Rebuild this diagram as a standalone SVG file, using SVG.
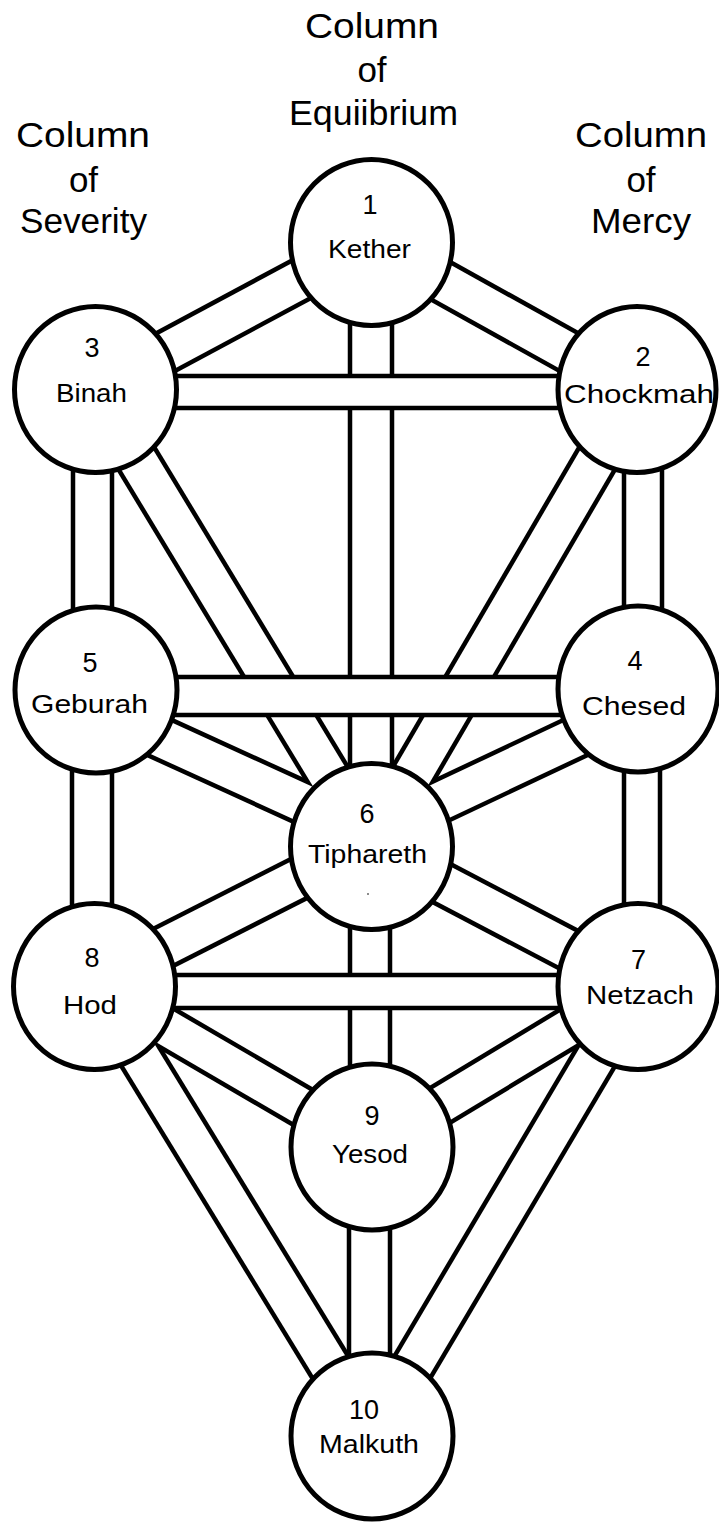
<svg xmlns="http://www.w3.org/2000/svg" width="719" height="1524" viewBox="0 0 719 1524">
<style>
.b{stroke:#000;fill:none}
.w{stroke:#fff;fill:none}
.node ellipse{fill:#fff;stroke:#000;stroke-width:5}
text{font-family:"Liberation Sans",Arial,sans-serif;fill:#000;text-anchor:middle}
.h{font-size:35px}
.n{font-size:26px}
.d{font-size:27px}
</style>
<rect width="719" height="1524" fill="#fff"/>
<g id="headers">
<text class="h" x="372" y="38" textLength="134" lengthAdjust="spacingAndGlyphs">Column</text>
<text class="h" x="372" y="82">of</text>
<text class="h" x="373.5" y="125" textLength="169" lengthAdjust="spacingAndGlyphs">Equiibrium</text>
<text class="h" x="83" y="147" textLength="134" lengthAdjust="spacingAndGlyphs">Column</text>
<text class="h" x="83.5" y="192">of</text>
<text class="h" x="83.5" y="233" textLength="127" lengthAdjust="spacingAndGlyphs">Severity</text>
<text class="h" x="641" y="147" textLength="132" lengthAdjust="spacingAndGlyphs">Column</text>
<text class="h" x="641" y="192">of</text>
<text class="h" x="641" y="233" textLength="100" lengthAdjust="spacingAndGlyphs">Mercy</text>
</g>
<g id="connectors">
<g class="b">
<line x1="371" y1="242" x2="95" y2="390" stroke-width="46.5"/>
<line x1="371" y1="242" x2="637" y2="390" stroke-width="46.5"/>
<line x1="95" y1="390" x2="371" y2="846" stroke-width="46.5"/>
<line x1="637" y1="390" x2="371" y2="846" stroke-width="46.5"/>
<line x1="95" y1="708" x2="371" y2="834" stroke-width="46.5"/>
<line x1="638" y1="708" x2="371" y2="834" stroke-width="46.5"/>
<line x1="371" y1="842" x2="95" y2="982" stroke-width="46.5"/>
<line x1="371" y1="846" x2="638" y2="986" stroke-width="46.5"/>
<line x1="95" y1="986" x2="371" y2="1147" stroke-width="44.5"/>
<line x1="638" y1="986" x2="371" y2="1147" stroke-width="44.5"/>
<line x1="97" y1="986" x2="373" y2="1437" stroke-width="46.5"/>
<line x1="638" y1="986" x2="371" y2="1437" stroke-width="46.5"/>
<line x1="371" y1="242" x2="371" y2="846" stroke-width="46.5"/>
<line x1="92.5" y1="390" x2="92.5" y2="690" stroke-width="43.5"/>
<line x1="643" y1="390" x2="643" y2="690" stroke-width="42.5"/>
<line x1="92" y1="690" x2="92" y2="986" stroke-width="44.5"/>
<line x1="642" y1="690" x2="642" y2="986" stroke-width="40.5"/>
<line x1="370" y1="846" x2="370" y2="1147" stroke-width="44.5"/>
<line x1="369.5" y1="1147" x2="369.5" y2="1436" stroke-width="45.5"/>
</g>
<g class="w">
<line x1="371" y1="242" x2="95" y2="390" stroke-width="37.5"/>
<line x1="371" y1="242" x2="637" y2="390" stroke-width="37.5"/>
<line x1="95" y1="390" x2="371" y2="846" stroke-width="37.5"/>
<line x1="637" y1="390" x2="371" y2="846" stroke-width="37.5"/>
<line x1="95" y1="708" x2="371" y2="834" stroke-width="37.5"/>
<line x1="638" y1="708" x2="371" y2="834" stroke-width="37.5"/>
<line x1="371" y1="842" x2="95" y2="982" stroke-width="37.5"/>
<line x1="371" y1="846" x2="638" y2="986" stroke-width="37.5"/>
<line x1="95" y1="986" x2="371" y2="1147" stroke-width="35.5"/>
<line x1="638" y1="986" x2="371" y2="1147" stroke-width="35.5"/>
<line x1="97" y1="986" x2="373" y2="1437" stroke-width="37.5"/>
<line x1="638" y1="986" x2="371" y2="1437" stroke-width="37.5"/>
<line x1="371" y1="242" x2="371" y2="846" stroke-width="37.5"/>
<line x1="92.5" y1="390" x2="92.5" y2="690" stroke-width="34.5"/>
<line x1="643" y1="390" x2="643" y2="690" stroke-width="33.5"/>
<line x1="92" y1="690" x2="92" y2="986" stroke-width="35.5"/>
<line x1="642" y1="690" x2="642" y2="986" stroke-width="31.5"/>
<line x1="370" y1="846" x2="370" y2="1147" stroke-width="35.5"/>
<line x1="369.5" y1="1147" x2="369.5" y2="1436" stroke-width="36.5"/>
</g>
<line class="b" x1="95" y1="392" x2="637" y2="392" stroke-width="36.5"/>
<line class="w" x1="95" y1="392" x2="637" y2="392" stroke-width="27.5"/>
<line class="b" x1="96" y1="696" x2="638" y2="696" stroke-width="42.5"/>
<line class="w" x1="96" y1="696" x2="638" y2="696" stroke-width="33.5"/>
<line class="b" x1="95" y1="991.5" x2="638" y2="991.5" stroke-width="37.5"/>
<line class="w" x1="95" y1="991.5" x2="638" y2="991.5" stroke-width="28.5"/>
</g>
<g id="kether" class="node">
<ellipse cx="371.5" cy="242.5" rx="81" ry="83"/>
<text class="d" x="370" y="214">1</text>
<text class="n" x="369.5" y="258" textLength="83" lengthAdjust="spacingAndGlyphs">Kether</text>
</g>
<g id="binah" class="node">
<ellipse cx="95.5" cy="389.5" rx="81" ry="83"/>
<text class="d" x="92" y="357">3</text>
<text class="n" x="91.5" y="402" textLength="71" lengthAdjust="spacingAndGlyphs">Binah</text>
</g>
<g id="chockmah" class="node">
<ellipse cx="637" cy="389.5" rx="79" ry="83"/>
<text class="d" x="643" y="366">2</text>
<text class="n" x="639" y="403" textLength="150" lengthAdjust="spacingAndGlyphs">Chockmah</text>
</g>
<g id="geburah" class="node">
<ellipse cx="96" cy="690" rx="81" ry="83"/>
<text class="d" x="90" y="672">5</text>
<text class="n" x="89.5" y="713" textLength="117" lengthAdjust="spacingAndGlyphs">Geburah</text>
</g>
<g id="chesed" class="node">
<ellipse cx="638" cy="689" rx="80" ry="83"/>
<text class="d" x="635" y="670">4</text>
<text class="n" x="634" y="715" textLength="104" lengthAdjust="spacingAndGlyphs">Chesed</text>
</g>
<g id="tiphareth" class="node">
<ellipse cx="371.5" cy="846.5" rx="81" ry="83"/>
<text class="d" x="367" y="823">6</text>
<text class="n" x="367.5" y="863" textLength="119" lengthAdjust="spacingAndGlyphs">Tiphareth</text>
<circle cx="368" cy="894" r="1" fill="#666"/>
</g>
<g id="hod" class="node">
<ellipse cx="94.5" cy="986.5" rx="81" ry="83"/>
<text class="d" x="92" y="967">8</text>
<text class="n" x="90" y="1014" textLength="54" lengthAdjust="spacingAndGlyphs">Hod</text>
</g>
<g id="netzach" class="node">
<ellipse cx="638" cy="986.5" rx="80" ry="83"/>
<text class="d" x="638.5" y="969">7</text>
<text class="n" x="640" y="1004" textLength="108" lengthAdjust="spacingAndGlyphs">Netzach</text>
</g>
<g id="yesod" class="node">
<ellipse cx="372" cy="1147" rx="81" ry="83"/>
<text class="d" x="372" y="1125">9</text>
<text class="n" x="370" y="1163" textLength="76" lengthAdjust="spacingAndGlyphs">Yesod</text>
</g>
<g id="malkuth" class="node">
<ellipse cx="372" cy="1436" rx="81" ry="83"/>
<text class="d" x="364" y="1419">10</text>
<text class="n" x="369" y="1453" textLength="100" lengthAdjust="spacingAndGlyphs">Malkuth</text>
</g>
</svg>
